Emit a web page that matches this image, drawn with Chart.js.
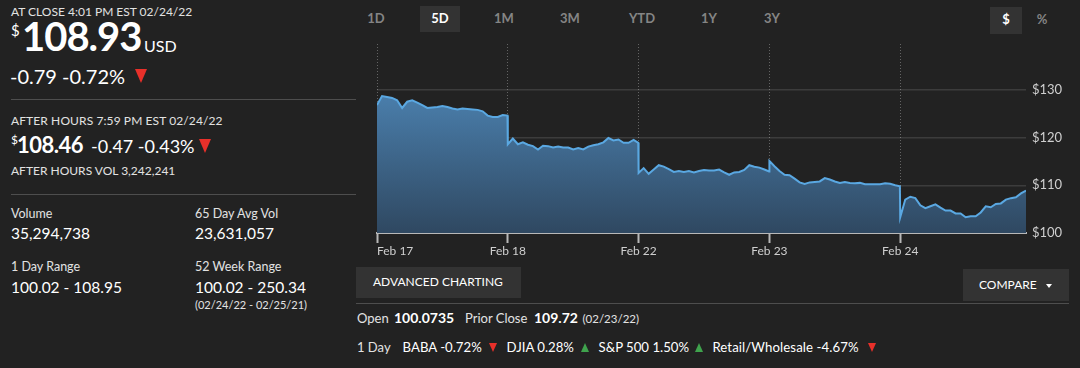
<!DOCTYPE html>
<html>
<head>
<meta charset="utf-8">
<script src="https://cdn.jsdelivr.net/npm/chart.js@4"></script>
<style>
  html, body { margin:0; padding:0; }
  body { width:1080px; height:368px; background:#222; position:relative; overflow:hidden; font-family:'Lato','Open Sans',sans-serif; color:#e2e2e2; }
  .t { position:absolute; line-height:1; white-space:nowrap; }
  .w { color:#fff; }
  .b { font-weight:700; }
  .sep { position:absolute; height:1px; background:#4e4e4e; }
  .box { position:absolute; background:#333; }
  .tab { position:absolute; width:40px; text-align:center; font-size:13px; font-weight:700; color:#858585; line-height:1; top:12px; }
  .tri-d, .tri-u { position:absolute; width:0; height:0; border-left-style:solid; border-right-style:solid; border-left-color:transparent; border-right-color:transparent; }
  .tri-d { border-top-style:solid; border-top-color:#e8302a; }
  .tri-u { border-bottom-style:solid; border-bottom-color:#3fa34d; }
  #chartWrap { position:absolute; left:355px; top:40px; width:725px; height:225px; }
</style>
</head>
<body>

<!-- left panel -->
<div class="t" style="left:11px;top:6px;font-size:12px;">AT CLOSE 4:01 PM EST 02/24/22</div>
<div class="t w" style="left:11px;top:23px;font-size:15px;">$</div>
<div class="t w b" style="left:22px;top:16px;font-size:40px;letter-spacing:-1px;">108.93</div>
<div class="t w" style="left:144px;top:37.5px;font-size:16px;">USD</div>
<div class="t w" style="left:10px;top:65.6px;font-size:20px;">-0.79 -0.72%</div>
<div class="tri-d" style="left:135px;top:69px;border-left-width:6px;border-right-width:6px;border-top-width:14px;"></div>
<div class="sep" style="left:11px;top:99px;width:345px;"></div>

<div class="t" style="left:11px;top:115.4px;font-size:12px;letter-spacing:0.1px;">AFTER HOURS 7:59 PM EST 02/24/22</div>
<div class="t w" style="left:11px;top:134px;font-size:12px;">$</div>
<div class="t w b" style="left:17px;top:133.8px;font-size:22px;letter-spacing:-0.5px;">108.46</div>
<div class="t w" style="left:91px;top:137.3px;font-size:18px;">-0.47 -0.43%</div>
<div class="tri-d" style="left:199px;top:139px;border-left-width:6.5px;border-right-width:6.5px;border-top-width:14px;"></div>
<div class="t" style="left:11px;top:165.4px;font-size:12px;">AFTER HOURS VOL 3,242,241</div>
<div class="sep" style="left:11px;top:194px;width:345px;"></div>

<div class="t" style="left:11px;top:208.2px;font-size:12.5px;">Volume</div>
<div class="t w" style="left:11px;top:226.3px;font-size:15.5px;">35,294,738</div>
<div class="t" style="left:195px;top:208.2px;font-size:12.5px;">65 Day Avg Vol</div>
<div class="t w" style="left:195px;top:226.3px;font-size:15.5px;">23,631,057</div>
<div class="t" style="left:11px;top:261.2px;font-size:12.5px;">1 Day Range</div>
<div class="t w" style="left:11px;top:279.6px;font-size:15.5px;">100.02 - 108.95</div>
<div class="t" style="left:195px;top:261.2px;font-size:12.5px;">52 Week Range</div>
<div class="t w" style="left:195px;top:279.6px;font-size:15.5px;">100.02 - 250.34</div>
<div class="t" style="left:195px;top:299.2px;font-size:11px;">(02/24/22 - 02/25/21)</div>

<!-- range tabs -->
<div class="box" style="left:420px;top:6px;width:40px;height:26px;"></div>
<div class="tab" style="left:356px;">1D</div>
<div class="tab" style="left:420px;color:#fff;">5D</div>
<div class="tab" style="left:484px;">1M</div>
<div class="tab" style="left:550px;">3M</div>
<div class="tab" style="left:622px;">YTD</div>
<div class="tab" style="left:689px;">1Y</div>
<div class="tab" style="left:752px;">3Y</div>
<div class="box" style="left:990px;top:7px;width:32px;height:27px;"></div>
<div class="tab" style="left:986px;color:#fff;top:13px;">$</div>
<div class="tab" style="left:1022px;top:13px;">%</div>

<div id="chartWrap"><canvas id="priceChart" width="725" height="225"></canvas></div>

<!-- bottom controls -->
<div class="box" style="left:356px;top:267px;width:165px;height:31px;"></div>
<div class="t w" style="left:373px;top:276px;font-size:12px;">ADVANCED CHARTING</div>
<div class="box" style="left:963px;top:269px;width:106px;height:32px;"></div>
<div class="t w" style="left:979px;top:278.7px;font-size:12px;">COMPARE</div>
<div class="tri-d" style="left:1046px;top:284px;border-left-width:3.5px;border-right-width:3.5px;border-top-width:4px;border-top-color:#fff;"></div>
<div class="sep" style="left:356px;top:303px;width:713px;"></div>

<div class="t" style="left:357px;top:312px;font-size:13px;">Open</div>
<div class="t w b" style="left:394px;top:311.1px;font-size:14px;">100.0735</div>
<div class="t" style="left:465px;top:312px;font-size:13px;">Prior Close</div>
<div class="t w b" style="left:534px;top:311.1px;font-size:14px;">109.72</div>
<div class="t" style="left:582.5px;top:313.3px;font-size:11.5px;">(02/23/22)</div>

<div class="t" style="left:357px;top:340.5px;font-size:13px;">1 Day</div>
<div class="t w" style="left:402.6px;top:340.5px;font-size:13.2px;">BABA -0.72%</div>
<div class="tri-d" style="left:489px;top:343px;border-left-width:4px;border-right-width:4px;border-top-width:9px;"></div>
<div class="t w" style="left:506.6px;top:340.5px;font-size:13.2px;">DJIA 0.28%</div>
<div class="tri-u" style="left:580.6px;top:343px;border-left-width:4px;border-right-width:4px;border-bottom-width:9px;"></div>
<div class="t w" style="left:598.6px;top:340.5px;font-size:13.2px;">S&amp;P 500 1.50%</div>
<div class="tri-u" style="left:694.8px;top:343px;border-left-width:4px;border-right-width:4px;border-bottom-width:9px;"></div>
<div class="t w" style="left:712.4px;top:340.5px;font-size:13.2px;letter-spacing:0.1px;">Retail/Wholesale -4.67%</div>
<div class="tri-d" style="left:868px;top:343px;border-left-width:4.5px;border-right-width:4.5px;border-top-width:9px;"></div>

<script>
/* BABA 5D intraday price, sampled every 15 min of the session */

const dayLabels = ['Feb 17', 'Feb 18', 'Feb 22', 'Feb 23', 'Feb 24'];
const sessionMinutes = [0,15,30,45,60,75,90,105,120,135,150,165,180,195,210,225,240,255,270,285,300,315,330,345,360,375,389];

const feb17 = [126.8,128.7,128.5,128.3,127.8,126.2,127.5,127.8,127.3,126.8,126.2,126.3,126.4,126.6,126.4,126.1,125.9,126.1,126.0,125.9,125.8,125.5,124.6,124.3,124.3,124.7,124.6];
const feb18 = [118.6,119.8,118.6,119.0,118.5,118.2,117.5,118.3,118.2,117.9,118.1,117.9,117.9,117.5,117.8,117.5,118.1,118.4,118.6,119.0,119.9,119.4,119.6,118.9,118.9,119.5,118.9];
const feb22 = [112.6,113.6,112.4,113.3,114.2,113.9,113.4,112.8,113.0,112.8,113.0,112.7,113.0,113.2,113.1,113.1,113.3,112.7,112.2,112.7,112.8,113.2,114.2,113.9,113.7,113.3,112.9];
const feb23 = [115.1,114.0,113.0,112.2,112.1,111.4,110.6,110.3,110.6,110.7,110.8,111.5,111.2,110.8,110.5,110.7,110.5,110.4,110.5,110.2,110.2,110.2,110.2,110.4,110.3,110.0,109.8];
const feb24 = [103.3,107.0,107.6,107.3,105.8,105.2,105.6,106.0,105.3,104.7,104.7,104.1,104.1,103.3,103.5,103.5,104.3,105.6,105.4,106.1,106.2,107.0,107.3,107.5,108.3,108.9];

const yTicks = [100, 110, 120, 130];
const yMin = 100, yMax = 139.6;

const days = [feb17, feb18, feb22, feb23, feb24];
const points = [];
days.forEach((prices, d) => prices.forEach((p, i) => points.push({ x: d + sessionMinutes[i] / 390, y: p })));
const xMax = points[points.length - 1].x;

function drawChart() {
  new Chart(document.getElementById('priceChart'), {
    type: 'line',
    data: {
      datasets: [{
        data: points,
        borderColor: '#5aa8e2',
        borderWidth: 2,
        pointRadius: 0,
        tension: 0,
        fill: 'start',
        backgroundColor: ctx => {
          const ch = ctx.chart;
          if (!ch.chartArea) return 'rgba(70,120,165,0.9)';
          const g = ch.ctx.createLinearGradient(0, ch.scales.y.getPixelForValue(130), 0, ch.chartArea.bottom);
          g.addColorStop(0, '#4b80ae');
          g.addColorStop(1, '#2f4861');
          return g;
        }
      }]
    },
    options: {
      responsive: false,
      animation: false,
      layout: { padding: { left: 22, right: 14, top: 4, bottom: 0 } },
      plugins: { legend: { display: false }, tooltip: { enabled: false } },
      scales: {
        x: {
          type: 'linear', min: 0, max: xMax,
          afterBuildTicks: s => { s.ticks = [0, 1, 2, 3, 4, xMax].map(v => ({ value: v })); },
          afterFit: s => { s.height = 32; s.paddingLeft = 0; s.paddingRight = 0; },
          ticks: {
            align: 'inner', autoSkip: false, maxRotation: 0, padding: 1,
            color: '#cfcfcf', font: { family: 'Lato', size: 12 },
            callback: v => dayLabels[v] ?? ''
          },
          grid: {
            color: ctx => (ctx.tick && ctx.tick.value > 4.5) ? 'transparent' : 'rgba(255,255,255,0.3)',
            tickColor: ctx => (ctx.tick && ctx.tick.value > 4.5) ? 'transparent' : '#b8b8b8',
            tickLength: 10, tickWidth: 2, lineWidth: 1
          },
          border: { color: '#b8b8b8', width: 2, dash: [1, 2] }
        },
        y: {
          position: 'right', min: yMin, max: yMax, z: 1,
          afterBuildTicks: s => { s.ticks = yTicks.map(v => ({ value: v })); },
          afterFit: s => { s.width = 40; s.paddingTop = 0; s.paddingBottom = 0; },
          ticks: { color: '#cfcfcf', font: { family: 'Lato', size: 13 }, padding: 6, callback: v => '$' + v },
          grid: {
            drawTicks: false,
            color: ctx => ctx.tick.value === 100 ? '#b8b8b8' : 'rgba(255,255,255,0.12)',
            lineWidth: ctx => ctx.tick.value === 100 ? 2 : 1.5
          },
          border: { display: false }
        }
      }
    }
  });
}

document.fonts.load('12px Lato').then(drawChart, drawChart);
</script>
</body>
</html>
